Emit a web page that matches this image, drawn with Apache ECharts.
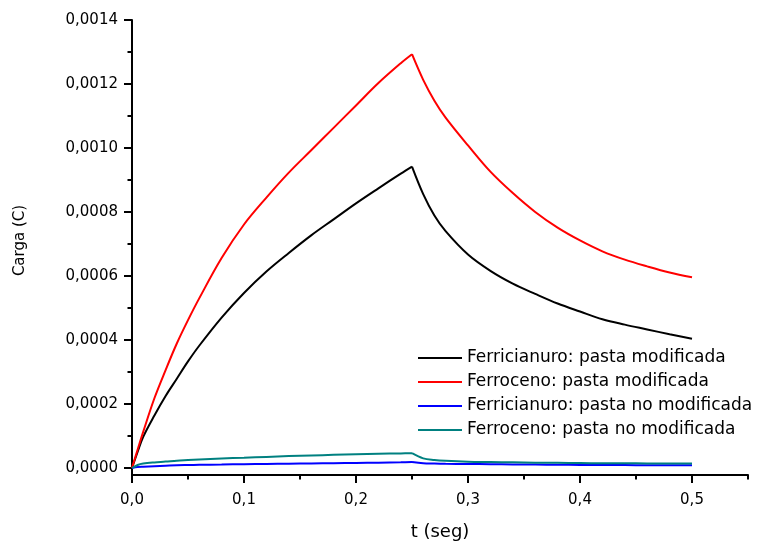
<!DOCTYPE html>
<html><head><meta charset="utf-8">
<script src="https://cdn.jsdelivr.net/npm/echarts@6/dist/echarts.min.js"></script>
<style>html,body{margin:0;padding:0;background:#fff}#c{width:760px;height:541px}</style>
</head><body><div id="c"></div>
<script>
const times = [0, 0.005, 0.01, 0.02, 0.03, 0.04, 0.05, 0.06, 0.08, 0.10, 0.12, 0.14, 0.16, 0.18, 0.20, 0.22, 0.24, 0.25, 0.26, 0.27, 0.28, 0.30, 0.32, 0.34, 0.36, 0.38, 0.40, 0.42, 0.44, 0.46, 0.48, 0.50];
const ferriModificada = [0, 0.00005, 0.000097, 0.000164, 0.000225, 0.000279, 0.000333, 0.000382, 0.00047, 0.000547, 0.000614, 0.000672, 0.000727, 0.000777, 0.000827, 0.000874, 0.00092, 0.000942, 0.000856, 0.000789, 0.00074, 0.000667, 0.000616, 0.000576, 0.000544, 0.000514, 0.000489, 0.000465, 0.000448, 0.000433, 0.000418, 0.000404];
const ferroModificada = [0, 0.000057, 0.000113, 0.000218, 0.000306, 0.000389, 0.000462, 0.00053, 0.000656, 0.000761, 0.000845, 0.000923, 0.000993, 0.001063, 0.001133, 0.001203, 0.001265, 0.001293, 0.001213, 0.001148, 0.001095, 0.001008, 0.000926, 0.000859, 0.0008, 0.000751, 0.000711, 0.000677, 0.000651, 0.00063, 0.000611, 0.000596];
const ferriNoModificada = [0, 0.000003, 0.000004, 0.0000055, 0.000007, 0.0000085, 0.0000092, 0.0000098, 0.0000108, 0.0000118, 0.0000127, 0.0000135, 0.0000142, 0.000015, 0.0000158, 0.0000167, 0.0000178, 0.0000185, 0.0000148, 0.000014, 0.0000133, 0.0000125, 0.0000119, 0.0000113, 0.0000106, 0.0000101, 0.0000097, 0.0000094, 0.0000091, 0.0000088, 0.0000085, 0.0000083];
const ferroNoModificada = [0, 0.0000095, 0.0000138, 0.0000175, 0.00002, 0.000023, 0.0000248, 0.0000266, 0.00003, 0.0000322, 0.0000347, 0.0000372, 0.0000392, 0.000041, 0.0000426, 0.0000442, 0.0000456, 0.0000462, 0.0000300, 0.0000250, 0.0000225, 0.0000198, 0.0000188, 0.0000178, 0.0000167, 0.000016, 0.0000153, 0.0000147, 0.0000145, 0.0000144, 0.0000143, 0.0000142];
const seriesNames = ['Ferricianuro: pasta modificada', 'Ferroceno: pasta modificada', 'Ferricianuro: pasta no modificada', 'Ferroceno: pasta no modificada'];
const switchTime = 0.25;
const xMajorTicks = [0, 0.1, 0.2, 0.3, 0.4, 0.5];
const xMinorTicks = [0.05, 0.15, 0.25, 0.35, 0.45, 0.55];
const yMajorTicks = [0, 0.0002, 0.0004, 0.0006, 0.0008, 0.0010, 0.0012, 0.0014];
const yMinorTicks = [0.0001, 0.0003, 0.0005, 0.0007, 0.0009, 0.0011, 0.0013];

const FONT = 'DejaVu Sans';
const colors = ['#000000', '#ff0000', '#0000ff', '#008080'];
const allValues = [ferriModificada, ferroModificada, ferriNoModificada, ferroNoModificada];
function pairs(vals, rising) {
  const out = [];
  times.forEach((t, i) => {
    if (rising ? t <= switchTime : t >= switchTime) out.push([t, vals[i]]);
  });
  return out;
}

const chart = echarts.init(document.getElementById('c'), null, {renderer: 'canvas'});
const axisLineStyle = {color: '#000', width: 2};
const xMin = 0, xMax = 0.55, yMin = -0.0000219, yMax = 0.0014;
const series = [];
seriesNames.forEach((name, i) => {
  [true, false].forEach(rising => {
    series.push({
      name: name, type: 'line', xAxisIndex: 0, yAxisIndex: 0,
      data: pairs(allValues[i], rising), symbol: 'none', showSymbol: false,
      smooth: 0.35,
      lineStyle: {color: colors[i], width: 2}, itemStyle: {color: colors[i]},
      z: 2 + i
    });
  });
});
const option = {
  animation: false,
  backgroundColor: '#ffffff',
  grid: {left: 132, right: 12, top: 20, bottom: 66, containLabel: false, outerBoundsMode: 'none'},
  legend: {
    orient: 'vertical', left: 413, top: 344,
    icon: 'rect', itemWidth: 44, itemHeight: 2, itemGap: 6,
    textStyle: {fontFamily: FONT, fontSize: 17, lineHeight: 18, color: '#000'},
    data: seriesNames
  },
  xAxis: [{
    type: 'value', min: xMin, max: xMax, position: 'bottom',
    axisLine: {onZero: false, lineStyle: axisLineStyle},
    axisTick: {customValues: xMajorTicks, length: 8, lineStyle: axisLineStyle},
    axisLabel: {customValues: xMajorTicks, formatter: v => v.toFixed(1).replace('.', ','), color: '#000', fontFamily: FONT, fontSize: 15, margin: 18},
    splitLine: {show: false},
    name: 't (seg)', nameLocation: 'middle', nameGap: 48,
    nameTextStyle: {fontFamily: FONT, fontSize: 18, color: '#000'}
  }, {
    type: 'value', min: xMin, max: xMax, position: 'bottom',
    axisLine: {show: false, onZero: false},
    axisTick: {customValues: xMinorTicks, length: 4.5, lineStyle: axisLineStyle},
    axisLabel: {show: false}, splitLine: {show: false}
  }],
  yAxis: [{
    type: 'value', min: yMin, max: yMax, position: 'left',
    axisLine: {onZero: false, lineStyle: axisLineStyle},
    axisTick: {customValues: yMajorTicks, length: 8, lineStyle: axisLineStyle},
    axisLabel: {customValues: yMajorTicks, formatter: v => v.toFixed(4).replace('.', ','), color: '#000', fontFamily: FONT, fontSize: 15, margin: 14},
    splitLine: {show: false},
    name: 'Carga (C)', nameLocation: 'middle', nameGap: 104,
    nameTextStyle: {fontFamily: FONT, fontSize: 15, color: '#000', padding: [0, 0, 0, 14]}
  }, {
    type: 'value', min: yMin, max: yMax, position: 'left',
    axisLine: {show: false, onZero: false},
    axisTick: {customValues: yMinorTicks, length: 4.5, lineStyle: axisLineStyle},
    axisLabel: {show: false}, splitLine: {show: false}
  }],
  series: series
};
chart.setOption(option);
</script>
</body></html>
